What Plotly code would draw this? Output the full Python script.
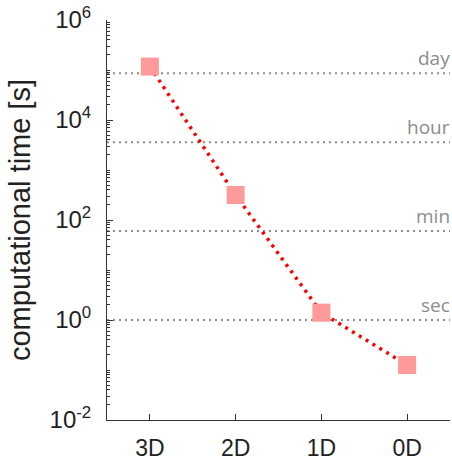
import math
import plotly.graph_objects as go

categories = ["3D", "2D", "1D", "0D"]
times = [1.17e5, 316, 1.4, 0.126]
ref_names = ["day", "hour", "min", "sec"]
ref_values = [86400, 3600, 60, 1]
ytick_vals = [1e-2, 1, 1e2, 1e4, 1e6]
ytick_text = ["10<sup>-2</sup>", "10<sup>0</sup>", "10<sup>2</sup>", "10<sup>4</sup>", "10<sup>6</sup>"]

fig = go.Figure()
for name, v in zip(ref_names, ref_values):
    fig.add_hline(y=v, line=dict(color="#8c8c8c", width=2, dash="2px,4px"), layer="below")
    fig.add_annotation(x=1, xref="paper", y=math.log10(v), yref="y", text=name, showarrow=False,
                       xanchor="right", yanchor="bottom", yshift=0, xshift=2,
                       font=dict(family="Open Sans", size=19, color="#8c8c8c"))

fig.add_trace(go.Scatter(x=categories, y=times, mode="lines+markers",
                         line=dict(color="#ff0000", width=3.5, dash="3px,5px"),
                         marker=dict(symbol="square", size=18, color="#ff9a9a"),
                         showlegend=False, cliponaxis=False))

fig.update_layout(
    width=452, height=462,
    margin=dict(l=107, r=2, t=20, b=42),
    plot_bgcolor="white", paper_bgcolor="white",
    font=dict(family="Liberation Sans", color="#222"),
)
fig.update_xaxes(range=[-0.5, 3.5], showgrid=False, zeroline=False, showline=True,
                 linecolor="#333", linewidth=1, ticks="inside", ticklen=6, tickcolor="#333",
                 tickfont=dict(size=23, color="#222"), ticklabelstandoff=7, automargin=False)
fig.update_yaxes(type="log", range=[-2, 6], tickmode="array", tickvals=ytick_vals, ticktext=ytick_text,
                 showgrid=False, zeroline=False, showline=True, linecolor="#333", linewidth=1,
                 ticks="inside", ticklen=6, tickcolor="#333",
                 minor=dict(ticks="inside", ticklen=3, dtick="D1", tickcolor="#333", showgrid=False),
                 tickfont=dict(size=24, color="#222"), ticklabelstandoff=10, automargin=False,
                 title=dict(text="computational time [s]", font=dict(size=29, color="#222"), standoff=10))

fig.write_html("out.html", config={"displayModeBar": False},
               post_script="document.body.style.margin='0';document.body.style.padding='0';")
